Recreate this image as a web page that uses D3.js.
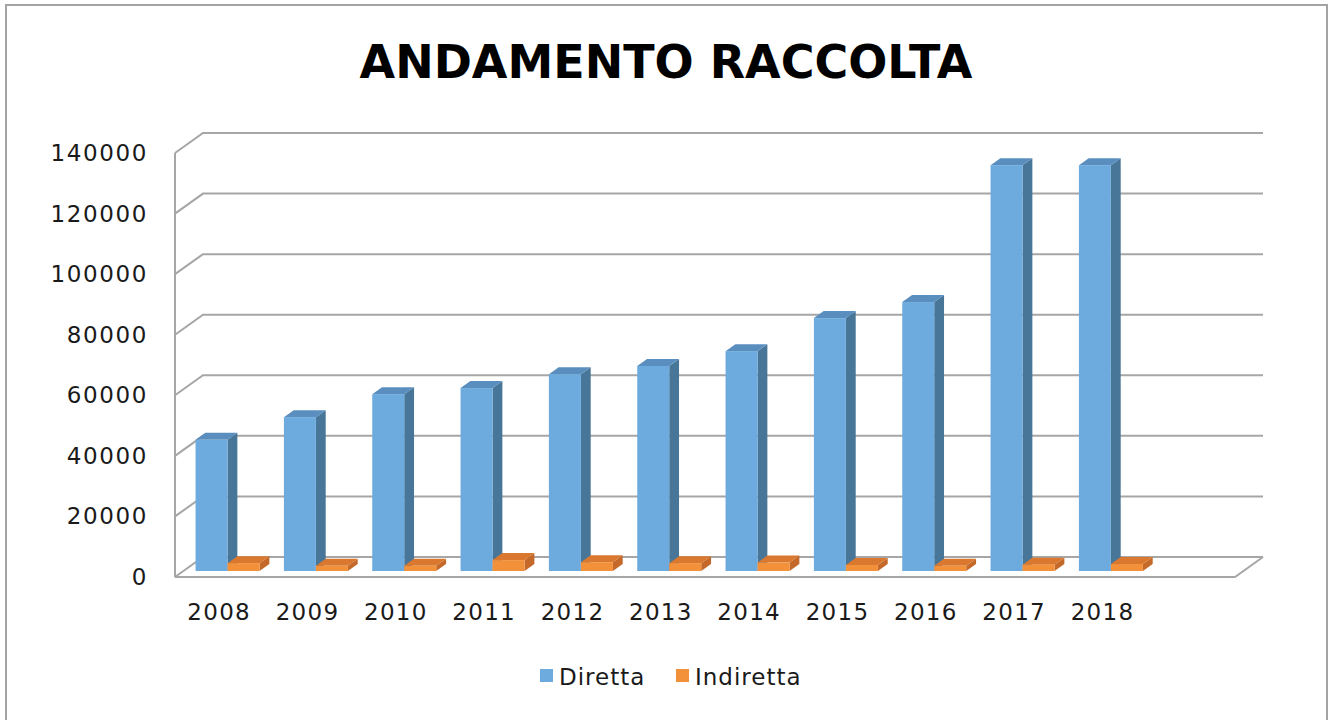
<!DOCTYPE html>
<head>
  <meta charset="utf-8">
  <title>Andamento Raccolta</title>
  <script src="https://cdn.jsdelivr.net/npm/d3@7/dist/d3.min.js"></script>
  <style>
    body { margin: 0; background: #fff; }
    text { font-family: "DejaVu Sans", Verdana, sans-serif; fill: #1a1a1a; }
  </style>
</head>

<body>
  <script type="text/javascript">
    var WIDTH = 1333;
    var HEIGHT = 720;

    //===========data
    var years = ["2008", "2009", "2010", "2011", "2012", "2013", "2014", "2015", "2016", "2017", "2018"];
    var diretta = [43300, 50800, 58400, 60400, 65000, 67700, 72600, 83500, 88800, 134000, 134000];
    var indiretta = [2600, 1700, 1700, 3600, 2900, 2600, 2800, 2000, 1700, 2100, 2300];
    var yTicks = [0, 20000, 40000, 60000, 80000, 100000, 120000, 140000];
    var seriesNames = ["Diretta", "Indiretta"];

    var colors = {
      Diretta:   { front: "#6DAADD", side: "#487699", top: "#5A8EBF" },
      Indiretta: { front: "#F3903A", side: "#C4692A", top: "#D9782E" }
    };

    var svg = d3.select("body").append("svg")
                .attr("width", WIDTH)
                .attr("height", HEIGHT);

    // outer frame
    svg.append("rect")
       .attr("x", 6).attr("y", 5)
       .attr("width", 1321).attr("height", 730)
       .attr("fill", "#fff")
       .attr("stroke", "#a3a3a3")
       .attr("stroke-width", 2);

    // title
    svg.append("text")
       .attr("x", 666).attr("y", 78)
       .attr("text-anchor", "middle")
       .style("font-size", "46px")
       .style("font-weight", "bold")
       .style("fill", "#000")
       .text("ANDAMENTO RACCOLTA");

    //=============scales
    var DX = 28, DY = -20;        // depth vector of the plot box
    var T0 = 0.3, T1 = 0.65;      // depth slice occupied by the bars

    var x = d3.scaleBand()
              .domain(years.concat([""]))   // one empty slot on the right, like the original
              .range([175, 1235])
              .paddingInner(0);
    var y = d3.scaleLinear()
              .domain([0, 140000])
              .range([577, 153]);

    var grid = svg.append("g").attr("fill", "none")
                  .attr("stroke", "#a6a6a6").attr("stroke-width", 2);

    // left wall front edge
    grid.append("line")
        .attr("x1", x.range()[0]).attr("x2", x.range()[0])
        .attr("y1", y(0)).attr("y2", y(140000));

    // gridlines: diagonal on the side wall + line across the back wall
    grid.selectAll(".g").data(yTicks).enter().append("path")
        .attr("d", function(d){
          var x0 = x.range()[0], x1 = x.range()[1];
          return "M" + x0 + "," + y(d) + "L" + (x0 + DX) + "," + (y(d) + DY) +
                 "L" + (x1 + DX) + "," + (y(d) + DY);
        });

    // floor front edge and right edge
    grid.append("path")
        .attr("d", "M" + x.range()[0] + "," + y(0) + "L" + x.range()[1] + "," + y(0) +
                   "L" + (x.range()[1] + DX) + "," + (y(0) + DY));

    // y labels
    svg.selectAll(".ylab").data(yTicks).enter().append("text")
       .attr("x", 148)
       .attr("y", function(d){ return y(d) + 8; })
       .attr("text-anchor", "end")
       .style("font-size", "23px")
       .style("letter-spacing", "1.6px")
       .text(function(d){ return d; });

    // x labels
    svg.selectAll(".xlab").data(years).enter().append("text")
       .attr("x", function(d){ return x(d) + x.bandwidth() / 2; })
       .attr("y", 620)
       .attr("text-anchor", "middle")
       .style("font-size", "23px")
       .style("letter-spacing", "1.3px")
       .text(function(d){ return d; });

    //=============bars
    var barW = 32;
    var ox = T0 * DX, oy = T0 * DY;
    var dx = (T1 - T0) * DX, dy = (T1 - T0) * DY;

    var rows = years.map(function(yr, i){
      return [
        { year: yr, name: "Diretta",   value: diretta[i],   k: 0 },
        { year: yr, name: "Indiretta", value: indiretta[i], k: 1 }
      ];
    });

    var bars = svg.append("g");
    rows.forEach(function(pair){
      pair.forEach(function(d){
        var left = x(d.year) + x.bandwidth() / 2 - barW + d.k * barW + ox;
        var right = left + barW;
        var bottom = y(0) + oy;
        var top = y(d.value) + oy;
        var c = colors[d.name];
        var g = bars.append("g");
        g.append("path").attr("fill", c.side)
         .attr("d", "M" + right + "," + bottom + "L" + (right + dx) + "," + (bottom + dy) +
                    "L" + (right + dx) + "," + (top + dy) + "L" + right + "," + top + "Z");
        g.append("path").attr("fill", c.top)
         .attr("d", "M" + left + "," + top + "L" + right + "," + top +
                    "L" + (right + dx) + "," + (top + dy) + "L" + (left + dx) + "," + (top + dy) + "Z");
        g.append("rect").attr("fill", c.front)
         .attr("x", left).attr("y", top)
         .attr("width", barW).attr("height", bottom - top);
      });
    });

    //=============legend
    var legendX = [540, 676];
    var legend = svg.selectAll(".leg").data(seriesNames).enter().append("g")
                    .attr("transform", function(d, i){ return "translate(" + legendX[i] + ",669)"; });
    legend.append("rect")
          .attr("width", 13).attr("height", 13)
          .attr("fill", function(d){ return colors[d].front; });
    legend.append("text")
          .attr("x", 19).attr("y", 16)
          .style("font-size", "23px")
          .style("letter-spacing", "1px")
          .text(function(d){ return d; });
  </script>
</body>
